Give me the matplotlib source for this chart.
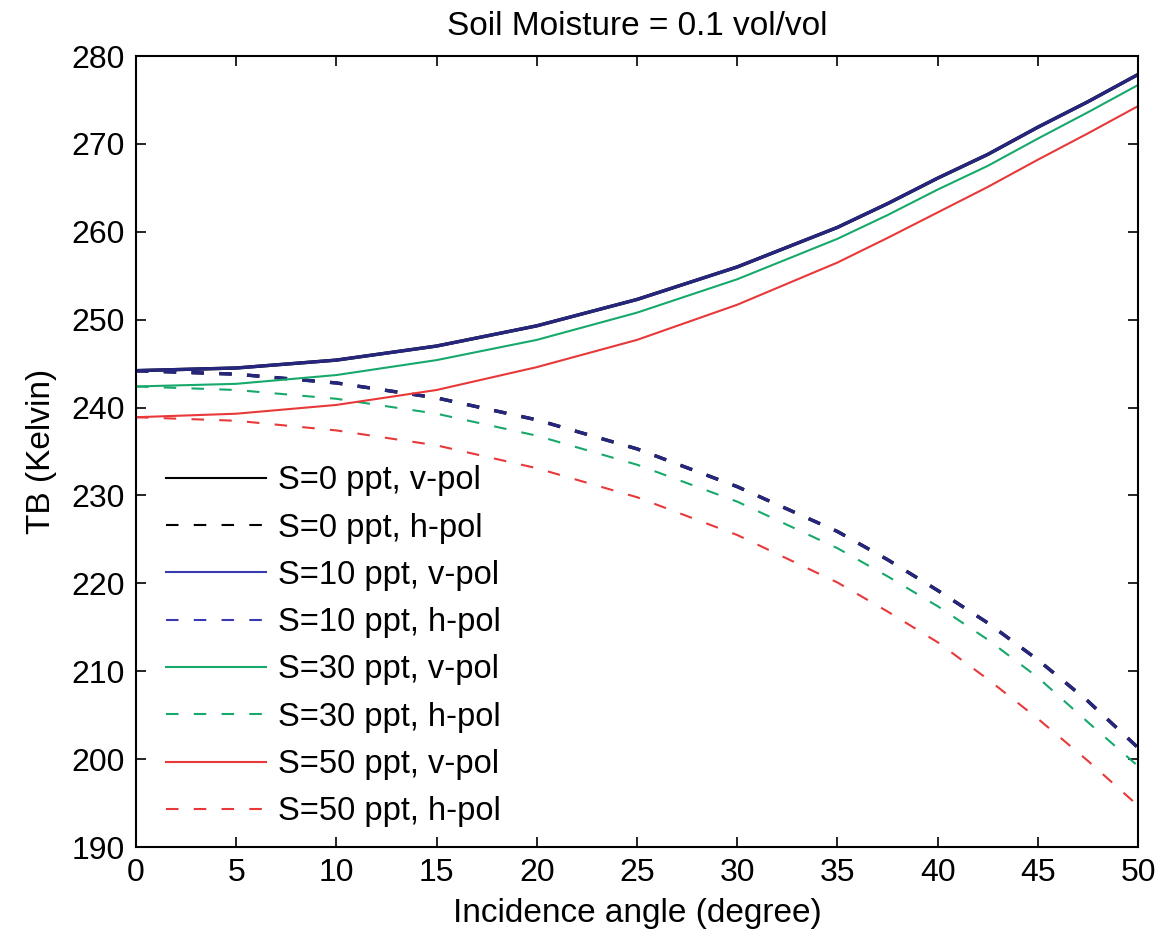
import matplotlib
matplotlib.use("Agg")
import matplotlib.pyplot as plt

plt.rcParams['font.family'] = ['Liberation Sans', 'DejaVu Sans']
plt.rcParams['lines.scale_dashes'] = False

angles = [0, 5, 10, 15, 20, 25, 30, 35, 37.5, 40, 42.5, 45, 47.5, 50]

tb_s0_v = [244.2, 244.5, 245.4, 247.0, 249.3, 252.3, 256.0, 260.5, 263.2, 266.1, 268.8, 271.9, 274.8, 277.9]
tb_s0_h = [244.2, 243.8, 242.8, 241.1, 238.6, 235.3, 231.0, 225.9, 222.7, 219.2, 215.5, 211.3, 206.6, 201.3]
tb_s10_v = [244.2, 244.5, 245.4, 247.0, 249.3, 252.3, 256.0, 260.5, 263.2, 266.1, 268.8, 271.9, 274.8, 277.9]
tb_s10_h = [244.2, 243.8, 242.8, 241.1, 238.6, 235.3, 231.0, 225.9, 222.7, 219.2, 215.5, 211.3, 206.6, 201.3]
tb_s30_v = [242.4, 242.7, 243.7, 245.4, 247.7, 250.8, 254.6, 259.2, 261.9, 264.8, 267.5, 270.6, 273.6, 276.7]
tb_s30_h = [242.4, 242.0, 241.0, 239.3, 236.8, 233.5, 229.3, 224.0, 220.8, 217.4, 213.6, 209.3, 204.2, 199.2]
tb_s50_v = [238.9, 239.3, 240.3, 242.0, 244.6, 247.7, 251.7, 256.5, 259.3, 262.2, 265.1, 268.2, 271.2, 274.3]
tb_s50_h = [238.9, 238.5, 237.4, 235.7, 233.1, 229.8, 225.5, 220.1, 216.8, 213.3, 209.1, 204.6, 199.8, 194.7]

labels = ["S=0 ppt, v-pol", "S=0 ppt, h-pol", "S=10 ppt, v-pol", "S=10 ppt, h-pol",
          "S=30 ppt, v-pol", "S=30 ppt, h-pol", "S=50 ppt, v-pol", "S=50 ppt, h-pol"]
xticks = [0, 5, 10, 15, 20, 25, 30, 35, 40, 45, 50]
yticks = [190, 200, 210, 220, 230, 240, 250, 260, 270, 280]

c_black = '#000000'
c_blue = '#26267e'
c_green = '#17a96b'
c_red = '#e8383a'

fig = plt.figure(figsize=(11.64, 9.35), dpi=100)
ax = fig.add_axes([0.1168, 0.0941, 0.8609, 0.8460])

dash = (0, (9.0, 11.0))
series = [
    (tb_s0_v, c_black, '-'), (tb_s0_h, c_black, dash),
    (tb_s10_v, c_blue, '-'), (tb_s10_h, c_blue, dash),
    (tb_s30_v, c_green, '-'), (tb_s30_h, c_green, dash),
    (tb_s50_v, c_red, '-'), (tb_s50_h, c_red, dash),
]
for (vals, col, ls), lab in zip(series, labels):
    w = 2.4 if col in (c_black, c_blue) else 1.5
    ax.plot(angles, vals, color=col, linestyle=ls, linewidth=w, label=lab)

ax.set_xlim(0, 50)
ax.set_ylim(190, 280)
ax.set_xticks(xticks)
ax.set_yticks(yticks)
ax.tick_params(direction='in', length=7, width=1.2, top=True, right=True,
               labelsize=23, pad=8)
for s in ax.spines.values():
    s.set_linewidth(1.5)

ax.set_xlabel("Incidence angle (degree)", fontsize=24, labelpad=7)
ax.set_ylabel("TB (Kelvin)", fontsize=24, labelpad=10)
ax.set_title("Soil Moisture = 0.1 vol/vol", fontsize=24, pad=15)

leg = ax.legend(loc='lower left', bbox_to_anchor=(0.01, 0.0), frameon=False,
                fontsize=23.5, handlelength=3.07, handletextpad=0.37,
                labelspacing=0.50, borderaxespad=0.2)
leg_colors = [c_black, c_black, '#3a3ab0', '#3a3ab0', c_green, c_green, c_red, c_red]
for h, col in zip(leg.get_lines(), leg_colors):
    h.set_linewidth(1.5)
    h.set_color(col)

fig.savefig("out.png", dpi=100)
